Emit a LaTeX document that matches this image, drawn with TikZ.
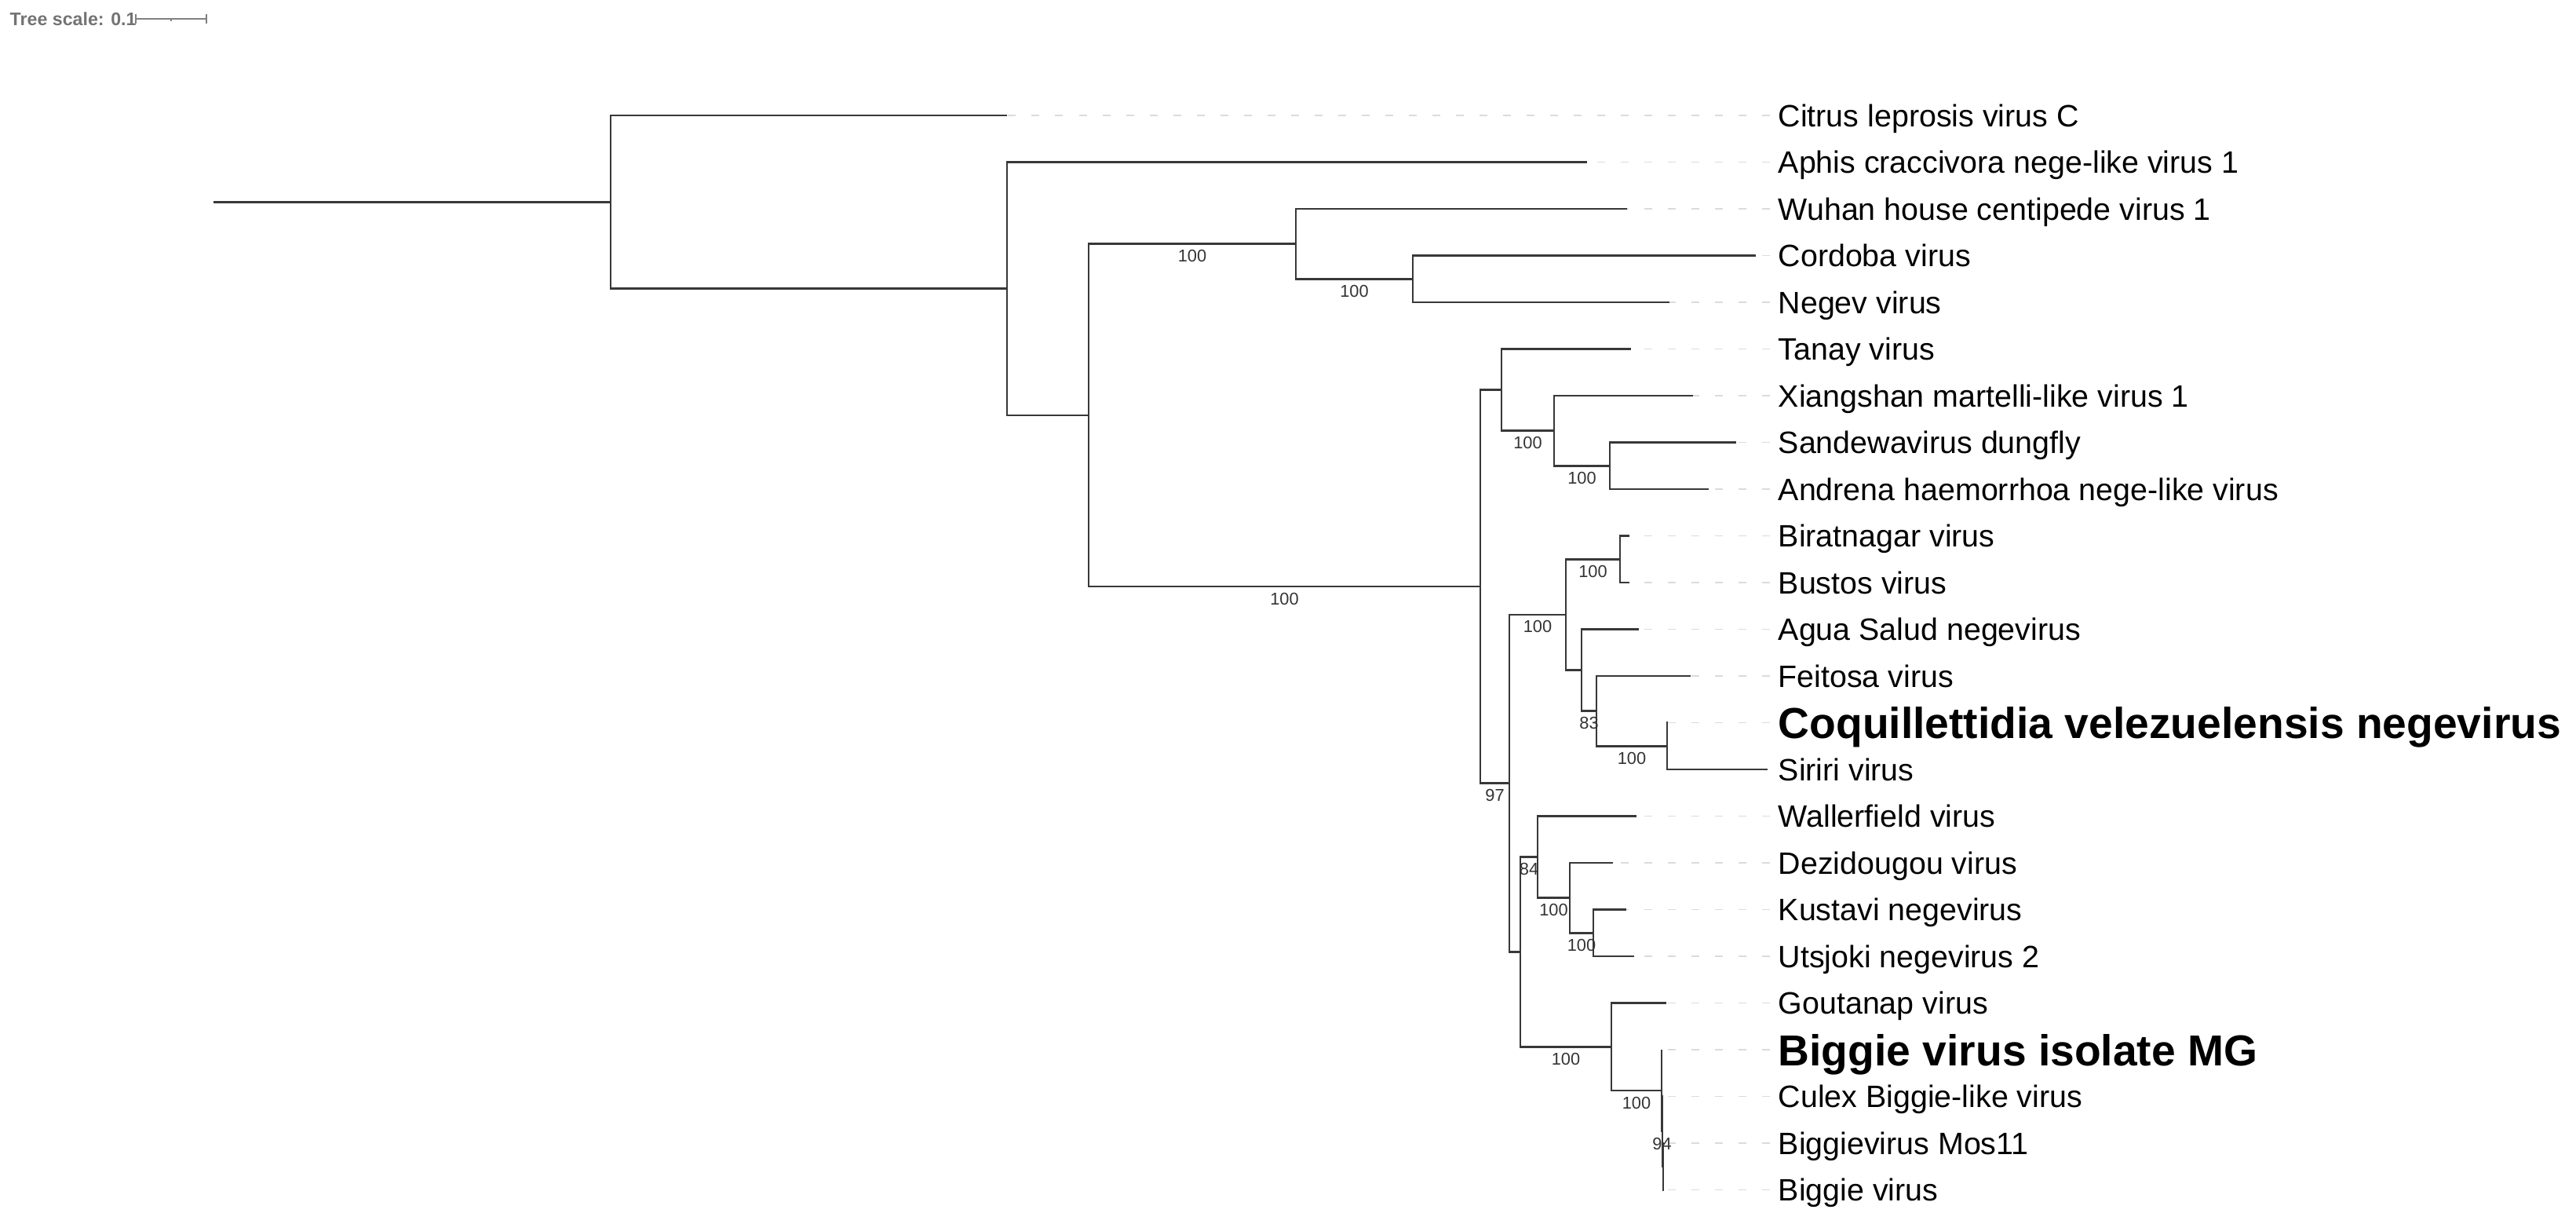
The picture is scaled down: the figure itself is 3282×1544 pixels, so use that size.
\documentclass[tikz,border=0pt]{standalone}
\usepackage{fontspec}
\setmainfont{Liberation Sans}
\usetikzlibrary{positioning,calc}

\begin{document}
\begin{tikzpicture}[
    x=0.01cm, y=-0.01cm,
    branch/.style={draw=black!78, line width=0.026cm},
    leader/.style={draw=black!14, line width=0.016cm, dash pattern=on 0.1cm off 0.2cm},
    leaf/.style={anchor=base west, inner xsep=0.1cm, inner ysep=0pt, font=\fontsize{11.2}{13}\selectfont},
    focus/.style={leaf, font=\fontsize{15.7}{18}\selectfont\bfseries},
    support/.style={anchor=north, inner sep=0pt, yshift=-0.07cm, text=black!80, font=\fontsize{6.2}{7}\selectfont},
    scalebar/.style={draw=black!50, line width=0.022cm}
]
\useasboundingbox (0,0) rectangle (3282,1544);

% Tree scale
\node[anchor=base west, inner sep=0pt, text=black!55, font=\fontsize{6.6}{8}\selectfont\bfseries] (scale) at (12,32) {Tree scale: 0.1};
\coordinate (sb0) at (173,24);
\coordinate (sb1) at (263,24);
\draw[scalebar] (sb0) -- (sb1);
\draw[scalebar] (sb0) ++(0,-6) -- ++(0,12);
\draw[scalebar] (sb1) ++(0,-6) -- ++(0,12);
\draw[scalebar] ($(sb0)!0.5!(sb1)$) -- ++(0,3);

% Internal nodes
\coordinate (root) at (272,257.3);
\coordinate (n1) at (778,257.3);
\coordinate (n2) at (1283,367.7);
\coordinate (n3) at (1387,528.9);
\coordinate (n4) at (1651,310.6);
\coordinate (n6) at (1800,355.25);
\coordinate (n5) at (1886,747.1);
\coordinate (n7) at (1913,496.6);
\coordinate (n8) at (1980,548.6);
\coordinate (n9) at (2051,593.25);
\coordinate (n10) at (1923,997.7);
\coordinate (n12) at (1995,782.9);
\coordinate (n13) at (2064,712.25);
\coordinate (n14) at (2015,853.6);
\coordinate (n15) at (2034,905.6);
\coordinate (n16) at (2124,950.25);
\coordinate (n11) at (1937,1212.4);
\coordinate (n17) at (1959,1091.6);
\coordinate (n18) at (2000,1143.6);
\coordinate (n19) at (2030,1188.25);
\coordinate (n20) at (2053,1333.3);
\coordinate (n21) at (2117,1389.1);
\coordinate (n22) at (2118,1441.1);
\coordinate (n23) at (2119,1485.75);

% Tips
\coordinate (citrus) at (1283,147);
\coordinate (aphis) at (2022,206.5);
\coordinate (wuhan) at (2073,266);
\coordinate (cordoba) at (2237,325.5);
\coordinate (negev) at (2127,385);
\coordinate (tanay) at (2078,444.5);
\coordinate (xiangshan) at (2157,504);
\coordinate (sandewa) at (2212,563.5);
\coordinate (andrena) at (2177,623);
\coordinate (biratnagar) at (2076,682.5);
\coordinate (bustos) at (2076,742);
\coordinate (agua) at (2088,801.5);
\coordinate (feitosa) at (2154,861);
\coordinate (coquil) at (2125,920.5);
\coordinate (siriri) at (2252,980);
\coordinate (waller) at (2085,1039.5);
\coordinate (dezi) at (2055,1099);
\coordinate (kustavi) at (2072,1158.5);
\coordinate (utsjoki) at (2082,1218);
\coordinate (goutanap) at (2123,1277.5);
\coordinate (biggiemg) at (2117,1337);
\coordinate (culex) at (2119,1396.5);
\coordinate (mos) at (2120,1456);
\coordinate (biggie) at (2120,1515.5);

% Labels
\node[leaf] (citrusL) at (2255,161) {Citrus leprosis virus C};
\node[leaf] (aphisL) at (2255,220.5) {Aphis craccivora nege-like virus 1};
\node[leaf] (wuhanL) at (2255,280) {Wuhan house centipede virus 1};
\node[leaf] (cordobaL) at (2255,339.5) {Cordoba virus};
\node[leaf] (negevL) at (2255,399) {Negev virus};
\node[leaf] (tanayL) at (2255,458.5) {Tanay virus};
\node[leaf] (xiangshanL) at (2255,518) {Xiangshan martelli-like virus 1};
\node[leaf] (sandewaL) at (2255,577.5) {Sandewavirus dungfly};
\node[leaf] (andrenaL) at (2255,637) {Andrena haemorrhoa nege-like virus};
\node[leaf] (biratnagarL) at (2255,696.5) {Biratnagar virus};
\node[leaf] (bustosL) at (2255,756) {Bustos virus};
\node[leaf] (aguaL) at (2255,815.5) {Agua Salud negevirus};
\node[leaf] (feitosaL) at (2255,875) {Feitosa virus};
\node[focus] (coquilL) at (2255,940.5) {Coquillettidia velezuelensis negevirus};
\node[leaf] (siririL) at (2255,994) {Siriri virus};
\node[leaf] (wallerL) at (2255,1053.5) {Wallerfield virus};
\node[leaf] (deziL) at (2255,1113) {Dezidougou virus};
\node[leaf] (kustaviL) at (2255,1172.5) {Kustavi negevirus};
\node[leaf] (utsjokiL) at (2255,1232) {Utsjoki negevirus 2};
\node[leaf] (goutanapL) at (2255,1291.5) {Goutanap virus};
\node[focus] (biggiemgL) at (2255,1357) {Biggie virus isolate MG};
\node[leaf] (culexL) at (2255,1410.5) {Culex Biggie-like virus};
\node[leaf] (mosL) at (2255,1470) {Biggievirus Mos11};
\node[leaf] (biggieL) at (2255,1529.5) {Biggie virus};

% Leaders
\draw[leader] (citrusL.west |- citrus) -- (citrus);
\draw[leader] (aphisL.west |- aphis) -- (aphis);
\draw[leader] (wuhanL.west |- wuhan) -- (wuhan);
\draw[leader] (cordobaL.west |- cordoba) -- (cordoba);
\draw[leader] (negevL.west |- negev) -- (negev);
\draw[leader] (tanayL.west |- tanay) -- (tanay);
\draw[leader] (xiangshanL.west |- xiangshan) -- (xiangshan);
\draw[leader] (sandewaL.west |- sandewa) -- (sandewa);
\draw[leader] (andrenaL.west |- andrena) -- (andrena);
\draw[leader] (biratnagarL.west |- biratnagar) -- (biratnagar);
\draw[leader] (bustosL.west |- bustos) -- (bustos);
\draw[leader] (aguaL.west |- agua) -- (agua);
\draw[leader] (feitosaL.west |- feitosa) -- (feitosa);
\draw[leader] (coquilL.west |- coquil) -- (coquil);
\draw[leader] (wallerL.west |- waller) -- (waller);
\draw[leader] (deziL.west |- dezi) -- (dezi);
\draw[leader] (kustaviL.west |- kustavi) -- (kustavi);
\draw[leader] (utsjokiL.west |- utsjoki) -- (utsjoki);
\draw[leader] (goutanapL.west |- goutanap) -- (goutanap);
\draw[leader] (biggiemgL.west |- biggiemg) -- (biggiemg);
\draw[leader] (culexL.west |- culex) -- (culex);
\draw[leader] (mosL.west |- mos) -- (mos);
\draw[leader] (biggieL.west |- biggie) -- (biggie);

% Branches
\draw[branch] (root) -- (n1);
\draw[branch] (n1) |- (citrus);
\draw[branch] (n1) |- (n2);
\draw[branch] (n2) |- (aphis);
\draw[branch] (n2) |- (n3);
\draw[branch] (n3) |- (n4);
\draw[branch] (n3) |- (n5);
\draw[branch] (n4) |- (wuhan);
\draw[branch] (n4) |- (n6);
\draw[branch] (n6) |- (cordoba);
\draw[branch] (n6) |- (negev);
\draw[branch] (n5) |- (n7);
\draw[branch] (n5) |- (n10);
\draw[branch] (n7) |- (tanay);
\draw[branch] (n7) |- (n8);
\draw[branch] (n8) |- (xiangshan);
\draw[branch] (n8) |- (n9);
\draw[branch] (n9) |- (sandewa);
\draw[branch] (n9) |- (andrena);
\draw[branch] (n10) |- (n12);
\draw[branch] (n10) |- (n11);
\draw[branch] (n12) |- (n13);
\draw[branch] (n12) |- (n14);
\draw[branch] (n13) |- (biratnagar);
\draw[branch] (n13) |- (bustos);
\draw[branch] (n14) |- (agua);
\draw[branch] (n14) |- (n15);
\draw[branch] (n15) |- (feitosa);
\draw[branch] (n15) |- (n16);
\draw[branch] (n16) |- (coquil);
\draw[branch] (n16) |- (siriri);
\draw[branch] (n11) |- (n17);
\draw[branch] (n11) |- (n20);
\draw[branch] (n17) |- (waller);
\draw[branch] (n17) |- (n18);
\draw[branch] (n18) |- (dezi);
\draw[branch] (n18) |- (n19);
\draw[branch] (n19) |- (kustavi);
\draw[branch] (n19) |- (utsjoki);
\draw[branch] (n20) |- (goutanap);
\draw[branch] (n20) |- (n21);
\draw[branch] (n21) |- (biggiemg);
\draw[branch] (n21) |- (n22);
\draw[branch] (n22) |- (culex);
\draw[branch] (n22) |- (n23);
\draw[branch] (n23) |- (mos);
\draw[branch] (n23) |- (biggie);

% Support values
\node[support] (s4) at ($(n3 |- n4)!0.5!(n4)$) {100};
\node[support] (s6) at ($(n4 |- n6)!0.5!(n6)$) {100};
\node[support] (s5) at ($(n3 |- n5)!0.5!(n5)$) {100};
\node[support] (s8) at ($(n7 |- n8)!0.5!(n8)$) {100};
\node[support] (s9) at ($(n8 |- n9)!0.5!(n9)$) {100};
\node[support] (s10) at ($(n5 |- n10)!0.5!(n10)$) {97};
\node[support] (s12) at ($(n10 |- n12)!0.5!(n12)$) {100};
\node[support] (s13) at ($(n12 |- n13)!0.5!(n13)$) {100};
\node[support] (s15) at ($(n14 |- n15)!0.5!(n15)$) {83};
\node[support] (s16) at ($(n15 |- n16)!0.5!(n16)$) {100};
\node[support] (s17) at ($(n11 |- n17)!0.5!(n17)$) {84};
\node[support] (s18) at ($(n17 |- n18)!0.5!(n18)$) {100};
\node[support] (s19) at ($(n18 |- n19)!0.5!(n19)$) {100};
\node[support] (s20) at ($(n11 |- n20)!0.5!(n20)$) {100};
\node[support] (s21) at ($(n20 |- n21)!0.5!(n21)$) {100};
\node[support] (s22) at ($(n21 |- n22)!0.5!(n22)$) {94};

\end{tikzpicture}
\end{document}
